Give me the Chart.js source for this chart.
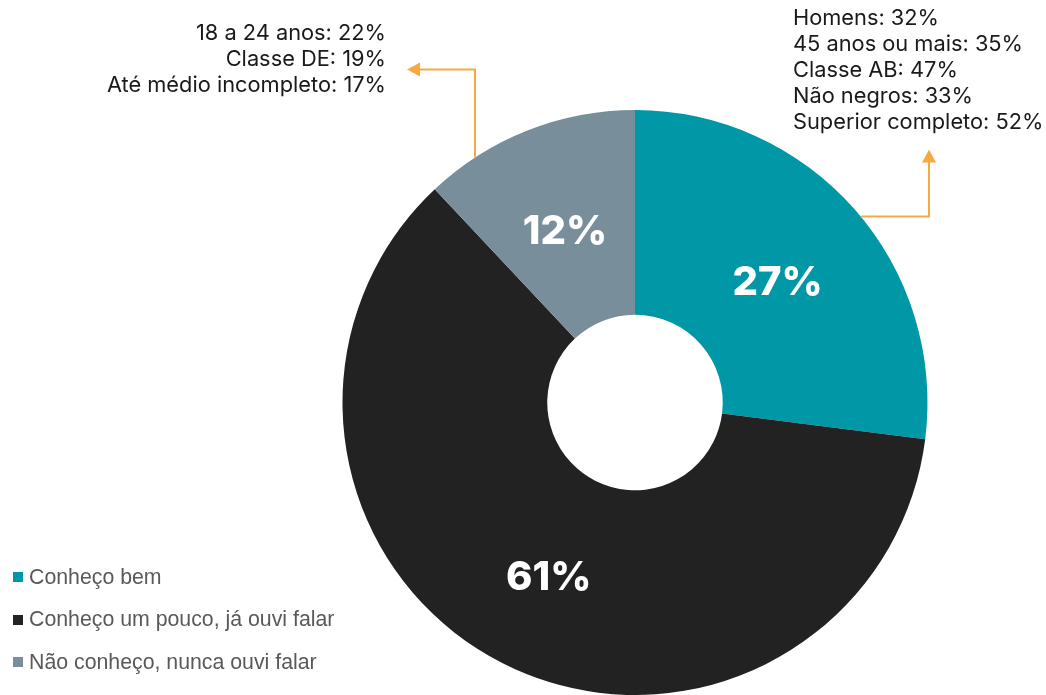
<!DOCTYPE html>
<html>
<head>
<meta charset="utf-8">
<script src="https://cdn.jsdelivr.net/npm/chart.js@4.4.1/dist/chart.umd.min.js"></script>
<style>
  html, body { margin: 0; padding: 0; background: #fff; }
  #wrap { position: relative; width: 1046px; height: 695px; overflow: hidden; }
  #legend { position: absolute; left: 13px; top: 564px; font-family: "Liberation Sans", Arial, sans-serif; font-size: 21.3px; color: #595959; }
  #legend div { display: flex; align-items: center; height: 26px; margin-bottom: 16.5px; }
  #legend span.box { display: inline-block; width: 10px; height: 10px; margin-right: 6px; }
</style>
</head>
<body>
<div id="wrap">
  <canvas id="chart" width="1046" height="695"></canvas>
  <div id="legend"></div>
</div>
<script>
const labels = ['Conheço bem', 'Conheço um pouco, já ouvi falar', 'Não conheço, nunca ouvi falar'];
const values = [27, 61, 12];
const colors = ['#0097A7', '#222222', '#788F9B'];

// perfis destacados para as fatias "Conheço bem" e "Não conheço"
const notesKnowWell = ['Homens: 32%', '45 anos ou mais: 35%', 'Classe AB: 47%', 'Não negros: 33%', 'Superior completo: 52%'];
const notesDontKnow = ['18 a 24 anos: 22%', 'Classe DE: 19%', 'Até médio incompleto: 17%'];

const arrowColor = '#F7A941';
const textFont = '400 21.8px Inter, "Noto Sans", sans-serif';

// legenda em HTML
const legendEl = document.getElementById('legend');
labels.forEach((label, i) => {
  const row = document.createElement('div');
  row.innerHTML = `<span class="box" style="background:${colors[i]}"></span>${label}`;
  legendEl.appendChild(row);
});

function drawArrowHead(ctx, x, y, dir) {
  ctx.beginPath();
  if (dir === 'up') {
    ctx.moveTo(x, y);
    ctx.lineTo(x - 7, y + 13);
    ctx.lineTo(x + 7, y + 13);
  } else {
    ctx.moveTo(x, y);
    ctx.lineTo(x + 13, y - 7);
    ctx.lineTo(x + 13, y + 7);
  }
  ctx.closePath();
  ctx.fill();
}

const sliceLabels = {
  id: 'sliceLabels',
  afterDatasetsDraw(chart) {
    const ctx = chart.ctx;
    const meta = chart.getDatasetMeta(0);
    ctx.save();
    ctx.fillStyle = '#fff';
    ctx.font = '800 40px Inter, "Noto Sans", sans-serif';
    ctx.textAlign = 'center';
    ctx.textBaseline = 'middle';
    meta.data.forEach((arc, i) => {
      const p = arc.getCenterPoint();
      ctx.fillText(values[i] + '%', p.x, p.y + 6);
    });
    ctx.restore();
  }
};

const notes = {
  id: 'notes',
  afterDraw(chart) {
    const ctx = chart.ctx;
    const arc = chart.getDatasetMeta(0).data[0];
    const cx = arc.x, cy = arc.y, r = arc.outerRadius;
    ctx.save();
    ctx.strokeStyle = arrowColor;
    ctx.fillStyle = arrowColor;
    ctx.lineWidth = 2;

    // seta da direita (Conheço bem)
    const ry = cy - 186;
    const rx0 = cx + Math.sqrt(r * r - 186 * 186);
    const rx1 = cx + 294;
    const rTip = cy - 253;
    ctx.beginPath();
    ctx.moveTo(rx0, ry);
    ctx.lineTo(rx1, ry);
    ctx.lineTo(rx1, rTip + 12);
    ctx.stroke();
    drawArrowHead(ctx, rx1, rTip, 'up');

    // seta da esquerda (Não conheço)
    const lx = cx - 160;
    const ly0 = cy - Math.sqrt(r * r - 160 * 160);
    const ly1 = cy - 333;
    const lTip = cx - 228;
    ctx.beginPath();
    ctx.moveTo(lx, ly0);
    ctx.lineTo(lx, ly1);
    ctx.lineTo(lTip + 12, ly1);
    ctx.stroke();
    drawArrowHead(ctx, lTip, ly1, 'left');

    ctx.fillStyle = '#1a1a1a';
    ctx.font = textFont;
    ctx.textBaseline = 'middle';
    ctx.textAlign = 'left';
    notesKnowWell.forEach((t, i) => ctx.fillText(t, cx + 158, cy - 384 + i * 26));
    ctx.textAlign = 'right';
    notesDontKnow.forEach((t, i) => ctx.fillText(t, cx - 249, cy - 369 + i * 26));
    ctx.restore();
  }
};

new Chart(document.getElementById('chart'), {
  type: 'doughnut',
  data: {
    labels: labels,
    datasets: [{
      data: values,
      backgroundColor: colors,
      borderWidth: 0
    }]
  },
  options: {
    responsive: false,
    animation: false,
    cutout: '30%',
    layout: { padding: { left: 342, right: 118, top: 110, bottom: 0 } },
    plugins: {
      legend: { display: false },
      tooltip: { enabled: false }
    }
  },
  plugins: [sliceLabels, notes]
});
</script>
</body>
</html>
